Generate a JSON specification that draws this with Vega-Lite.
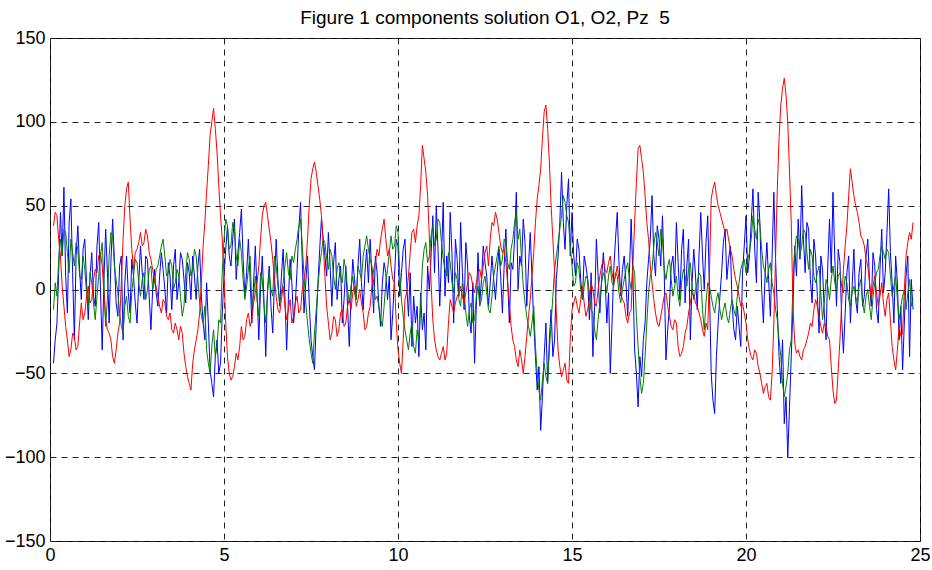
{
  "$schema": "https://vega.github.io/schema/vega-lite/v6.json",
  "width": 870,
  "height": 503,
  "autosize": "none",
  "padding": {"left": 50, "top": 38, "right": 12, "bottom": 29},
  "background": "white",
  "title": {"text": "Figure 1 components solution O1, O2, Pz \u00a05", "fontSize": 19, "font": "Liberation Sans", "fontWeight": "normal", "anchor": "middle", "offset": 1, "color": "#000"},
  "config": {
    "view": {"stroke": "#000", "strokeWidth": 1},
    "axis": {"labelFont": "Liberation Sans", "labelFontSize": 18, "labelColor": "#000", "ticks": false, "domain": false, "grid": true, "gridColor": "#222", "gridDash": [6, 5], "gridWidth": 1, "gridOpacity": 1, "title": null, "labelOverlap": false, "labelFlush": false}
  },
  "data": {"values": [
{"t":0.1,"r":38,"g":-12,"b":-44},{"t":0.2,"r":44,"g":-4,"b":-20},{"t":0.3,"r":20,"g":30,"b":46},{"t":0.4,"r":-10,"g":36,"b":61},{"t":0.5,"r":-30,"g":22,"b":-14},
{"t":0.6,"r":-36,"g":30,"b":54},{"t":0.7,"r":-28,"g":14,"b":-30},{"t":0.8,"r":-34,"g":24,"b":38},{"t":0.9,"r":-8,"g":6,"b":-6},{"t":1.0,"r":-14,"g":12,"b":30},
{"t":1.1,"r":2,"g":-10,"b":-18},{"t":1.2,"r":-6,"g":4,"b":22},{"t":1.3,"r":12,"g":-18,"b":-10},{"t":1.4,"r":20,"g":8,"b":40},{"t":1.5,"r":14,"g":28,"b":-36},
{"t":1.6,"r":-18,"g":-22,"b":36},{"t":1.7,"r":-26,"g":20,"b":-20},{"t":1.8,"r":-40,"g":32,"b":42},{"t":1.9,"r":-36,"g":6,"b":-8},{"t":2.0,"r":-20,"g":-14,"b":14},
{"t":2.1,"r":30,"g":-26,"b":-30},{"t":2.2,"r":60,"g":-4,"b":20},{"t":2.3,"r":42,"g":-20,"b":-14},{"t":2.4,"r":12,"g":8,"b":8},{"t":2.5,"r":24,"g":16,"b":-20},
{"t":2.6,"r":34,"g":-4,"b":26},{"t":2.7,"r":28,"g":10,"b":-6},{"t":2.8,"r":32,"g":0,"b":18},{"t":2.9,"r":18,"g":14,"b":-24},{"t":3.0,"r":6,"g":4,"b":12},
{"t":3.1,"r":-4,"g":14,"b":-10},{"t":3.2,"r":-14,"g":26,"b":22},{"t":3.3,"r":-8,"g":20,"b":0},{"t":3.4,"r":-18,"g":10,"b":16},{"t":3.5,"r":-24,"g":14,"b":-12},
{"t":3.6,"r":-20,"g":4,"b":24},{"t":3.7,"r":-30,"g":8,"b":4},{"t":3.8,"r":-26,"g":-16,"b":18},{"t":3.9,"r":-46,"g":10,"b":-8},{"t":4.0,"r":-56,"g":18,"b":10},
{"t":4.1,"r":-44,"g":12,"b":20},{"t":4.2,"r":-30,"g":20,"b":-6},{"t":4.3,"r":-14,"g":-8,"b":24},{"t":4.4,"r":26,"g":-20,"b":-20},{"t":4.5,"r":58,"g":-36,"b":4},
{"t":4.6,"r":92,"g":-50,"b":-48},{"t":4.7,"r":108,"g":-24,"b":-64},{"t":4.8,"r":82,"g":-34,"b":-30},{"t":4.9,"r":44,"g":-20,"b":-44},{"t":5.0,"r":8,"g":30,"b":8},
{"t":5.1,"r":-40,"g":38,"b":38},{"t":5.2,"r":-54,"g":26,"b":14},{"t":5.3,"r":-46,"g":36,"b":42},{"t":5.4,"r":-42,"g":14,"b":22},{"t":5.5,"r":-22,"g":22,"b":48},
{"t":5.6,"r":-28,"g":-6,"b":-4},{"t":5.7,"r":-14,"g":12,"b":30},{"t":5.8,"r":-18,"g":-10,"b":-20},{"t":5.9,"r":-2,"g":8,"b":26},{"t":6.0,"r":14,"g":-16,"b":-30},
{"t":6.1,"r":44,"g":6,"b":20},{"t":6.2,"r":52,"g":-20,"b":-40},{"t":6.3,"r":36,"g":10,"b":14},{"t":6.4,"r":18,"g":-4,"b":-26},{"t":6.5,"r":-4,"g":14,"b":30},
{"t":6.6,"r":-14,"g":-8,"b":-10},{"t":6.7,"r":2,"g":4,"b":24},{"t":6.8,"r":-18,"g":22,"b":-36},{"t":6.9,"r":-6,"g":6,"b":18},{"t":7.0,"r":-16,"g":16,"b":-20},
{"t":7.1,"r":-4,"g":30,"b":12},{"t":7.2,"r":-12,"g":42,"b":52},{"t":7.3,"r":6,"g":8,"b":-14},{"t":7.4,"r":30,"g":-20,"b":20},{"t":7.5,"r":66,"g":-38,"b":-30},
{"t":7.6,"r":76,"g":-26,"b":-48},{"t":7.7,"r":62,"g":2,"b":4},{"t":7.8,"r":44,"g":22,"b":42},{"t":7.9,"r":8,"g":28,"b":20},{"t":8.0,"r":-20,"g":12,"b":34},
{"t":8.1,"r":-26,"g":20,"b":-10},{"t":8.2,"r":-18,"g":0,"b":28},{"t":8.3,"r":-24,"g":16,"b":6},{"t":8.4,"r":-12,"g":4,"b":-20},{"t":8.5,"r":-20,"g":12,"b":14},
{"t":8.6,"r":-6,"g":-8,"b":-34},{"t":8.7,"r":-2,"g":8,"b":18},{"t":8.8,"r":-10,"g":-6,"b":-6},{"t":8.9,"r":0,"g":10,"b":30},{"t":9.0,"r":-14,"g":20,"b":-12},
{"t":9.1,"r":-22,"g":32,"b":24},{"t":9.2,"r":-10,"g":18,"b":30},{"t":9.3,"r":12,"g":4,"b":-14},{"t":9.4,"r":24,"g":-4,"b":10},{"t":9.5,"r":30,"g":-18,"b":-22},
{"t":9.6,"r":42,"g":-10,"b":16},{"t":9.7,"r":20,"g":12,"b":-6},{"t":9.8,"r":14,"g":32,"b":-30},{"t":9.9,"r":4,"g":26,"b":8},{"t":10.0,"r":-36,"g":34,"b":26},
{"t":10.1,"r":-50,"g":-6,"b":10},{"t":10.2,"r":-6,"g":-24,"b":30},{"t":10.3,"r":8,"g":-36,"b":-16},{"t":10.4,"r":34,"g":-20,"b":-34},{"t":10.5,"r":28,"g":-38,"b":-20},
{"t":10.6,"r":44,"g":-30,"b":-40},{"t":10.7,"r":86,"g":14,"b":-24},{"t":10.8,"r":70,"g":28,"b":-36},{"t":10.9,"r":32,"g":20,"b":0},{"t":11.0,"r":-18,"g":38,"b":44},
{"t":11.1,"r":-36,"g":30,"b":50},{"t":11.2,"r":-42,"g":40,"b":-10},{"t":11.3,"r":-34,"g":18,"b":52},{"t":11.4,"r":-38,"g":8,"b":20},{"t":11.5,"r":-6,"g":16,"b":46},
{"t":11.6,"r":-14,"g":-2,"b":-20},{"t":11.7,"r":-4,"g":6,"b":18},{"t":11.8,"r":2,"g":-10,"b":40},{"t":11.9,"r":-8,"g":-2,"b":-12},{"t":12.0,"r":4,"g":-22,"b":14},
{"t":12.1,"r":8,"g":-8,"b":-26},{"t":12.2,"r":-2,"g":-18,"b":-44},{"t":12.3,"r":10,"g":2,"b":22},{"t":12.4,"r":6,"g":-6,"b":6},{"t":12.5,"r":22,"g":8,"b":16},
{"t":12.6,"r":14,"g":-12,"b":-10},{"t":12.7,"r":40,"g":-4,"b":20},{"t":12.8,"r":46,"g":14,"b":-6},{"t":12.9,"r":34,"g":26,"b":24},{"t":13.0,"r":22,"g":18,"b":-14},
{"t":13.1,"r":16,"g":28,"b":36},{"t":13.2,"r":-8,"g":12,"b":-20},{"t":13.3,"r":-30,"g":30,"b":12},{"t":13.4,"r":-42,"g":46,"b":58},{"t":13.5,"r":-36,"g":36,"b":20},
{"t":13.6,"r":-50,"g":2,"b":42},{"t":13.7,"r":-28,"g":-16,"b":-10},{"t":13.8,"r":-6,"g":-28,"b":34},{"t":13.9,"r":22,"g":-10,"b":-20},{"t":14.0,"r":54,"g":-50,"b":-60},
{"t":14.1,"r":72,"g":-66,"b":-84},{"t":14.2,"r":106,"g":-44,"b":-40},{"t":14.3,"r":96,"g":-56,"b":-56},{"t":14.4,"r":50,"g":-20,"b":-12},{"t":14.5,"r":10,"g":12,"b":-30},
{"t":14.6,"r":-36,"g":28,"b":20},{"t":14.7,"r":-52,"g":44,"b":70},{"t":14.8,"r":-44,"g":52,"b":24},{"t":14.9,"r":-56,"g":40,"b":66},{"t":15.0,"r":-12,"g":14,"b":46},
{"t":15.1,"r":-4,"g":4,"b":8},{"t":15.2,"r":-14,"g":12,"b":24},{"t":15.3,"r":2,"g":-6,"b":-6},{"t":15.4,"r":-16,"g":8,"b":14},{"t":15.5,"r":-6,"g":-2,"b":-18},
{"t":15.6,"r":0,"g":-14,"b":-40},{"t":15.7,"r":-10,"g":-30,"b":30},{"t":15.8,"r":8,"g":-8,"b":-14},{"t":15.9,"r":18,"g":10,"b":22},{"t":16.0,"r":10,"g":-2,"b":-20},
{"t":16.1,"r":20,"g":14,"b":-50},{"t":16.2,"r":4,"g":2,"b":12},{"t":16.3,"r":14,"g":8,"b":46},{"t":16.4,"r":-2,"g":-8,"b":-4},{"t":16.5,"r":-8,"g":6,"b":20},
{"t":16.6,"r":-20,"g":16,"b":-16},{"t":16.7,"r":-12,"g":0,"b":42},{"t":16.8,"r":40,"g":10,"b":-36},{"t":16.9,"r":84,"g":-34,"b":-70},{"t":17.0,"r":78,"g":-62,"b":-52},
{"t":17.1,"r":56,"g":-40,"b":-20},{"t":17.2,"r":30,"g":-2,"b":18},{"t":17.3,"r":4,"g":12,"b":56},{"t":17.4,"r":-14,"g":34,"b":8},{"t":17.5,"r":-22,"g":20,"b":30},
{"t":17.6,"r":-10,"g":30,"b":44},{"t":17.7,"r":-2,"g":6,"b":-42},{"t":17.8,"r":-16,"g":18,"b":-10},{"t":17.9,"r":-24,"g":-4,"b":20},{"t":18.0,"r":-20,"g":8,"b":40},
{"t":18.1,"r":-40,"g":-10,"b":-6},{"t":18.2,"r":-34,"g":12,"b":36},{"t":18.3,"r":-22,"g":2,"b":14},{"t":18.4,"r":-8,"g":16,"b":-30},{"t":18.5,"r":-4,"g":-6,"b":24},
{"t":18.6,"r":-10,"g":4,"b":-12},{"t":18.7,"r":-18,"g":8,"b":46},{"t":18.8,"r":-28,"g":-24,"b":0},{"t":18.9,"r":-24,"g":4,"b":44},{"t":19.0,"r":54,"g":-4,"b":-50},
{"t":19.1,"r":64,"g":-14,"b":-74},{"t":19.2,"r":50,"g":-2,"b":-20},{"t":19.3,"r":42,"g":-18,"b":10},{"t":19.4,"r":34,"g":-8,"b":36},{"t":19.5,"r":30,"g":-20,"b":18},
{"t":19.6,"r":20,"g":-6,"b":-8},{"t":19.7,"r":6,"g":-16,"b":-30},{"t":19.8,"r":-4,"g":4,"b":-22},{"t":19.9,"r":-8,"g":16,"b":10},{"t":20.0,"r":-20,"g":10,"b":44},
{"t":20.1,"r":-36,"g":22,"b":20},{"t":20.2,"r":-42,"g":44,"b":60},{"t":20.3,"r":-38,"g":30,"b":4},{"t":20.4,"r":-50,"g":38,"b":40},{"t":20.5,"r":-62,"g":14,"b":-20},
{"t":20.6,"r":-56,"g":4,"b":28},{"t":20.7,"r":-66,"g":16,"b":-16},{"t":20.8,"r":-20,"g":-2,"b":58},{"t":20.9,"r":60,"g":-18,"b":-12},{"t":21.0,"r":110,"g":-40,"b":-56},
{"t":21.1,"r":126,"g":-64,"b":-80},{"t":21.2,"r":100,"g":-50,"b":-100},{"t":21.3,"r":40,"g":-30,"b":-40},{"t":21.4,"r":-32,"g":24,"b":26},{"t":21.5,"r":-36,"g":30,"b":42},
{"t":21.6,"r":-42,"g":26,"b":62},{"t":21.7,"r":-34,"g":34,"b":10},{"t":21.8,"r":-26,"g":12,"b":36},{"t":21.9,"r":-22,"g":20,"b":-8},{"t":22.0,"r":-6,"g":4,"b":20},
{"t":22.1,"r":-16,"g":14,"b":-26},{"t":22.2,"r":-26,"g":-18,"b":12},{"t":22.3,"r":-22,"g":6,"b":-30},{"t":22.4,"r":-30,"g":-6,"b":42},{"t":22.5,"r":-60,"g":14,"b":58},
{"t":22.6,"r":-66,"g":0,"b":-10},{"t":22.7,"r":-30,"g":10,"b":16},{"t":22.8,"r":12,"g":-2,"b":-38},{"t":22.9,"r":38,"g":4,"b":10},{"t":23.0,"r":72,"g":-10,"b":-20},
{"t":23.1,"r":56,"g":2,"b":24},{"t":23.2,"r":46,"g":-8,"b":-14},{"t":23.3,"r":32,"g":6,"b":18},{"t":23.4,"r":26,"g":-14,"b":-4},{"t":23.5,"r":14,"g":0,"b":30},
{"t":23.6,"r":-6,"g":-18,"b":-10},{"t":23.7,"r":8,"g":4,"b":14},{"t":23.8,"r":-10,"g":12,"b":-20},{"t":23.9,"r":4,"g":26,"b":36},{"t":24.0,"r":-16,"g":18,"b":10},
{"t":24.1,"r":-2,"g":22,"b":60},{"t":24.2,"r":-34,"g":-4,"b":4},{"t":24.3,"r":-48,"g":8,"b":20},{"t":24.4,"r":-22,"g":-18,"b":-30},{"t":24.5,"r":-26,"g":-4,"b":-48},
{"t":24.6,"r":20,"g":-12,"b":8},{"t":24.7,"r":34,"g":6,"b":-40},{"t":24.8,"r":40,"g":-6,"b":-12},
{"t":0.15,"r":46,"g":4,"b":-30},{"t":0.25,"r":30,"g":18,"b":10},{"t":0.35,"r":2,"g":20,"b":20},{"t":0.45,"r":-22,"g":34,"b":8},{"t":0.55,"r":-40,"g":10,"b":40},
{"t":0.65,"r":-26,"g":22,"b":10},{"t":0.75,"r":-36,"g":28,"b":20},{"t":0.85,"r":-20,"g":8,"b":12},{"t":0.95,"r":-18,"g":20,"b":24},{"t":1.05,"r":-4,"g":-2,"b":4},
{"t":1.15,"r":-8,"g":10,"b":8},{"t":1.25,"r":6,"g":-8,"b":-4},{"t":1.35,"r":10,"g":-4,"b":26},{"t":1.45,"r":22,"g":20,"b":0},{"t":1.55,"r":-2,"g":4,"b":6},
{"t":1.65,"r":-24,"g":-6,"b":10},{"t":1.75,"r":-30,"g":34,"b":16},{"t":1.85,"r":-44,"g":14,"b":18},{"t":1.95,"r":-26,"g":-2,"b":-16},{"t":2.05,"r":4,"g":-22,"b":20},
{"t":2.15,"r":50,"g":-10,"b":4},{"t":2.25,"r":64,"g":-16,"b":-2},{"t":2.35,"r":24,"g":-2,"b":18},{"t":2.45,"r":22,"g":18,"b":-8},{"t":2.55,"r":28,"g":4,"b":4},
{"t":2.65,"r":26,"g":6,"b":10},{"t":2.75,"r":36,"g":-6,"b":20},{"t":2.85,"r":22,"g":12,"b":-4},{"t":2.95,"r":12,"g":0,"b":0},{"t":3.05,"r":2,"g":12,"b":-2},
{"t":3.15,"r":-10,"g":20,"b":8},{"t":3.25,"r":-6,"g":30,"b":12},{"t":3.35,"r":-16,"g":8,"b":-14},{"t":3.45,"r":-14,"g":18,"b":8},{"t":3.55,"r":-26,"g":0,"b":14},
{"t":3.65,"r":-24,"g":12,"b":-6},{"t":3.75,"r":-22,"g":-4,"b":22},{"t":3.85,"r":-38,"g":-10,"b":6},{"t":3.95,"r":-52,"g":22,"b":16},{"t":4.05,"r":-60,"g":8,"b":-6},
{"t":4.15,"r":-36,"g":24,"b":8},{"t":4.25,"r":-24,"g":6,"b":14},{"t":4.35,"r":4,"g":-16,"b":-4},{"t":4.45,"r":40,"g":-10,"b":-30},{"t":4.55,"r":74,"g":-44,"b":-20},
{"t":4.65,"r":100,"g":-34,"b":-56},{"t":4.75,"r":96,"g":-40,"b":-40},{"t":4.85,"r":62,"g":-18,"b":-50},{"t":4.95,"r":30,"g":10,"b":-14},{"t":5.05,"r":-20,"g":42,"b":24},
{"t":5.15,"r":-50,"g":24,"b":20},{"t":5.25,"r":-52,"g":40,"b":30},{"t":5.35,"r":-38,"g":20,"b":6},{"t":5.45,"r":-34,"g":30,"b":34},{"t":5.55,"r":-30,"g":6,"b":18},
{"t":5.65,"r":-18,"g":2,"b":10},{"t":5.75,"r":-22,"g":20,"b":6},{"t":5.85,"r":-8,"g":-4,"b":4},{"t":5.95,"r":4,"g":-6,"b":-2},{"t":6.05,"r":30,"g":10,"b":0},
{"t":6.15,"r":50,"g":-10,"b":-8},{"t":6.25,"r":44,"g":-2,"b":0},{"t":6.35,"r":28,"g":0,"b":-10},{"t":6.45,"r":6,"g":20,"b":4},{"t":6.55,"r":-12,"g":2,"b":6},
{"t":6.65,"r":-6,"g":-2,"b":8},{"t":6.75,"r":-10,"g":14,"b":-4},{"t":6.85,"r":-12,"g":10,"b":-6},{"t":6.95,"r":-20,"g":20,"b":4},{"t":7.05,"r":-8,"g":24,"b":-8},
{"t":7.15,"r":-14,"g":38,"b":36},{"t":7.25,"r":0,"g":26,"b":16},{"t":7.35,"r":14,"g":-8,"b":4},{"t":7.45,"r":50,"g":-30,"b":-8},{"t":7.55,"r":72,"g":-44,"b":-40},
{"t":7.65,"r":70,"g":-12,"b":-20},{"t":7.75,"r":54,"g":14,"b":24},{"t":7.85,"r":28,"g":30,"b":30},{"t":7.95,"r":-10,"g":18,"b":8},{"t":8.05,"r":-30,"g":24,"b":14},
{"t":8.15,"r":-16,"g":8,"b":16},{"t":8.25,"r":-28,"g":12,"b":-6},{"t":8.35,"r":-14,"g":8,"b":14},{"t":8.45,"r":-22,"g":18,"b":-6},{"t":8.55,"r":-10,"g":0,"b":-10},
{"t":8.65,"r":-12,"g":2,"b":-4},{"t":8.75,"r":2,"g":-2,"b":6},{"t":8.85,"r":-6,"g":14,"b":14},{"t":8.95,"r":-8,"g":6,"b":4},{"t":9.05,"r":-24,"g":26,"b":10},
{"t":9.15,"r":-14,"g":24,"b":4},{"t":9.25,"r":2,"g":14,"b":8},{"t":9.35,"r":16,"g":-6,"b":20},{"t":9.45,"r":20,"g":-10,"b":-10},{"t":9.55,"r":36,"g":-22,"b":4},
{"t":9.65,"r":30,"g":4,"b":10},{"t":9.75,"r":24,"g":22,"b":8},{"t":9.85,"r":6,"g":24,"b":-14},{"t":9.95,"r":-20,"g":38,"b":30},{"t":10.05,"r":-44,"g":10,"b":-4},
{"t":10.15,"r":-30,"g":-16,"b":24},{"t":10.25,"r":-2,"g":-30,"b":4},{"t":10.35,"r":22,"g":-26,"b":10},{"t":10.45,"r":36,"g":-34,"b":-4},{"t":10.55,"r":38,"g":-24,"b":-10},
{"t":10.65,"r":62,"g":-10,"b":-2},{"t":10.75,"r":78,"g":24,"b":-14},{"t":10.85,"r":56,"g":16,"b":14},{"t":10.95,"r":4,"g":32,"b":20},{"t":11.05,"r":-30,"g":26,"b":10},
{"t":11.15,"r":-40,"g":42,"b":24},{"t":11.25,"r":-38,"g":28,"b":20},{"t":11.35,"r":-42,"g":12,"b":-4},{"t":11.45,"r":-20,"g":22,"b":4},{"t":11.55,"r":-10,"g":4,"b":22},
{"t":11.65,"r":-8,"g":10,"b":30},{"t":11.75,"r":-2,"g":-6,"b":-4},{"t":11.85,"r":-4,"g":4,"b":10},{"t":11.95,"r":-2,"g":-14,"b":28},{"t":12.05,"r":10,"g":-12,"b":-16},
{"t":12.15,"r":2,"g":-20,"b":4},{"t":12.25,"r":4,"g":-4,"b":-10},{"t":12.35,"r":12,"g":-10,"b":-8},{"t":12.45,"r":14,"g":4,"b":26},{"t":12.55,"r":26,"g":-2,"b":8},
{"t":12.65,"r":30,"g":-14,"b":4},{"t":12.75,"r":38,"g":8,"b":6},{"t":12.85,"r":42,"g":20,"b":10},{"t":12.95,"r":26,"g":14,"b":8},{"t":13.05,"r":24,"g":30,"b":14},
{"t":13.15,"r":4,"g":16,"b":6},{"t":13.25,"r":-22,"g":24,"b":16},{"t":13.35,"r":-34,"g":40,"b":30},{"t":13.45,"r":-46,"g":30,"b":0},{"t":13.55,"r":-42,"g":18,"b":14},
{"t":13.65,"r":-40,"g":-8,"b":28},{"t":13.75,"r":-16,"g":-22,"b":14},{"t":13.85,"r":8,"g":-20,"b":8},{"t":13.95,"r":40,"g":-34,"b":-40},{"t":14.05,"r":62,"g":-60,"b":-46},
{"t":14.15,"r":90,"g":-54,"b":-64},{"t":14.25,"r":110,"g":-52,"b":-20},{"t":14.35,"r":76,"g":-36,"b":-30},{"t":14.45,"r":30,"g":-4,"b":-40},{"t":14.55,"r":-14,"g":20,"b":6},
{"t":14.65,"r":-46,"g":36,"b":40},{"t":14.75,"r":-48,"g":56,"b":40},{"t":14.85,"r":-54,"g":44,"b":50},{"t":14.95,"r":-30,"g":26,"b":20},{"t":15.05,"r":-8,"g":2,"b":20},
{"t":15.15,"r":-10,"g":16,"b":30},{"t":15.25,"r":-6,"g":0,"b":6},{"t":15.35,"r":-8,"g":2,"b":20},{"t":15.45,"r":-12,"g":6,"b":6},{"t":15.55,"r":4,"g":-12,"b":10},
{"t":15.65,"r":-8,"g":-24,"b":-10},{"t":15.75,"r":0,"g":-18,"b":8},{"t":15.85,"r":14,"g":4,"b":6},{"t":15.95,"r":12,"g":6,"b":8},{"t":16.05,"r":16,"g":8,"b":-2},
{"t":16.15,"r":10,"g":4,"b":-20},{"t":16.25,"r":8,"g":10,"b":30},{"t":16.35,"r":6,"g":-2,"b":16},{"t":16.45,"r":-6,"g":0,"b":12},{"t":16.55,"r":-16,"g":12,"b":4},
{"t":16.65,"r":-14,"g":6,"b":10},{"t":16.75,"r":14,"g":14,"b":8},{"t":16.85,"r":64,"g":-16,"b":-50},{"t":16.95,"r":86,"g":-52,"b":-40},{"t":17.05,"r":70,"g":-56,"b":-30},
{"t":17.15,"r":40,"g":-20,"b":4},{"t":17.25,"r":14,"g":8,"b":30},{"t":17.35,"r":-6,"g":26,"b":20},{"t":17.45,"r":-20,"g":28,"b":38},{"t":17.55,"r":-16,"g":36,"b":14},
{"t":17.65,"r":-4,"g":12,"b":10},{"t":17.75,"r":-10,"g":14,"b":-24},{"t":17.85,"r":-22,"g":6,"b":14},{"t":17.95,"r":-18,"g":2,"b":4},{"t":18.05,"r":-34,"g":-4,"b":16},
{"t":18.15,"r":-38,"g":4,"b":24},{"t":18.25,"r":-26,"g":8,"b":-8},{"t":18.35,"r":-14,"g":12,"b":30},{"t":18.45,"r":-2,"g":2,"b":4},{"t":18.55,"r":-8,"g":0,"b":8},
{"t":18.65,"r":-14,"g":10,"b":20},{"t":18.75,"r":-24,"g":-12,"b":20},{"t":18.85,"r":-20,"g":-8,"b":28},{"t":18.95,"r":10,"g":2,"b":0},{"t":19.05,"r":60,"g":-10,"b":-66},
{"t":19.15,"r":56,"g":-6,"b":-40},{"t":19.25,"r":46,"g":-12,"b":-4},{"t":19.35,"r":38,"g":-12,"b":28},{"t":19.45,"r":36,"g":-16,"b":6},{"t":19.55,"r":24,"g":-12,"b":26},
{"t":19.65,"r":12,"g":-12,"b":-24},{"t":19.75,"r":2,"g":-4,"b":-10},{"t":19.85,"r":-10,"g":12,"b":-34},{"t":19.95,"r":-14,"g":18,"b":26},{"t":20.05,"r":-30,"g":18,"b":10},
{"t":20.15,"r":-40,"g":30,"b":40},{"t":20.25,"r":-36,"g":36,"b":24},{"t":20.35,"r":-46,"g":42,"b":58},{"t":20.45,"r":-56,"g":24,"b":0},{"t":20.55,"r":-58,"g":10,"b":10},
{"t":20.65,"r":-64,"g":12,"b":6},{"t":20.75,"r":-50,"g":4,"b":20},{"t":20.85,"r":20,"g":-12,"b":18},{"t":20.95,"r":90,"g":-30,"b":-40},{"t":21.05,"r":120,"g":-56,"b":-30},
{"t":21.15,"r":116,"g":-58,"b":-64},{"t":21.25,"r":70,"g":-36,"b":-70},{"t":21.35,"r":-10,"g":4,"b":-10},{"t":21.45,"r":-38,"g":32,"b":8},{"t":21.55,"r":-40,"g":20,"b":18},
{"t":21.65,"r":-36,"g":36,"b":30},{"t":21.75,"r":-30,"g":22,"b":40},{"t":21.85,"r":-20,"g":24,"b":6},{"t":21.95,"r":-12,"g":8,"b":30},{"t":22.05,"r":-10,"g":10,"b":-4},
{"t":22.15,"r":-22,"g":-2,"b":20},{"t":22.25,"r":-20,"g":-8,"b":-14},{"t":22.35,"r":-28,"g":2,"b":14},{"t":22.45,"r":-46,"g":6,"b":10},{"t":22.55,"r":-68,"g":4,"b":20},
{"t":22.65,"r":-48,"g":8,"b":24},{"t":22.75,"r":-8,"g":2,"b":-18},{"t":22.85,"r":26,"g":8,"b":-14},{"t":22.95,"r":56,"g":-6,"b":20},{"t":23.05,"r":64,"g":-2,"b":2},
{"t":23.15,"r":50,"g":-4,"b":-6},{"t":23.25,"r":40,"g":2,"b":10},{"t":23.35,"r":30,"g":-8,"b":-10},{"t":23.45,"r":18,"g":-4,"b":20},{"t":23.55,"r":4,"g":-10,"b":4},
{"t":23.65,"r":2,"g":-4,"b":22},{"t":23.75,"r":-2,"g":10,"b":-12},{"t":23.85,"r":-4,"g":20,"b":12},{"t":23.95,"r":-8,"g":22,"b":-2},{"t":24.05,"r":-6,"g":24,"b":34},
{"t":24.15,"r":-18,"g":8,"b":22},{"t":24.25,"r":-42,"g":2,"b":-20},{"t":24.35,"r":-36,"g":-6,"b":4},{"t":24.45,"r":-28,"g":-10,"b":-10},{"t":24.55,"r":0,"g":0,"b":-20},
{"t":24.65,"r":28,"g":-2,"b":20},{"t":24.75,"r":30,"g":-10,"b":6}
  ]},
  "layer": [
    {
      "mark": {"type": "line", "color": "#0000ff", "strokeWidth": 1},
      "encoding": {
        "x": {"field": "t", "type": "quantitative", "scale": {"domain": [0, 25], "nice": false, "zero": false}, "axis": {"values": [0, 5, 10, 15, 20, 25], "labelPadding": 5}},
        "y": {"field": "b", "type": "quantitative", "scale": {"domain": [-150, 150], "nice": false}, "axis": {"values": [-150, -100, -50, 0, 50, 100, 150], "labelPadding": 5}}
      }
    },
    {
      "mark": {"type": "line", "color": "#008000", "strokeWidth": 1},
      "encoding": {
        "x": {"field": "t", "type": "quantitative"},
        "y": {"field": "g", "type": "quantitative"}
      }
    },
    {
      "mark": {"type": "line", "color": "#ff0000", "strokeWidth": 1},
      "encoding": {
        "x": {"field": "t", "type": "quantitative"},
        "y": {"field": "r", "type": "quantitative"}
      }
    }
  ]
}
